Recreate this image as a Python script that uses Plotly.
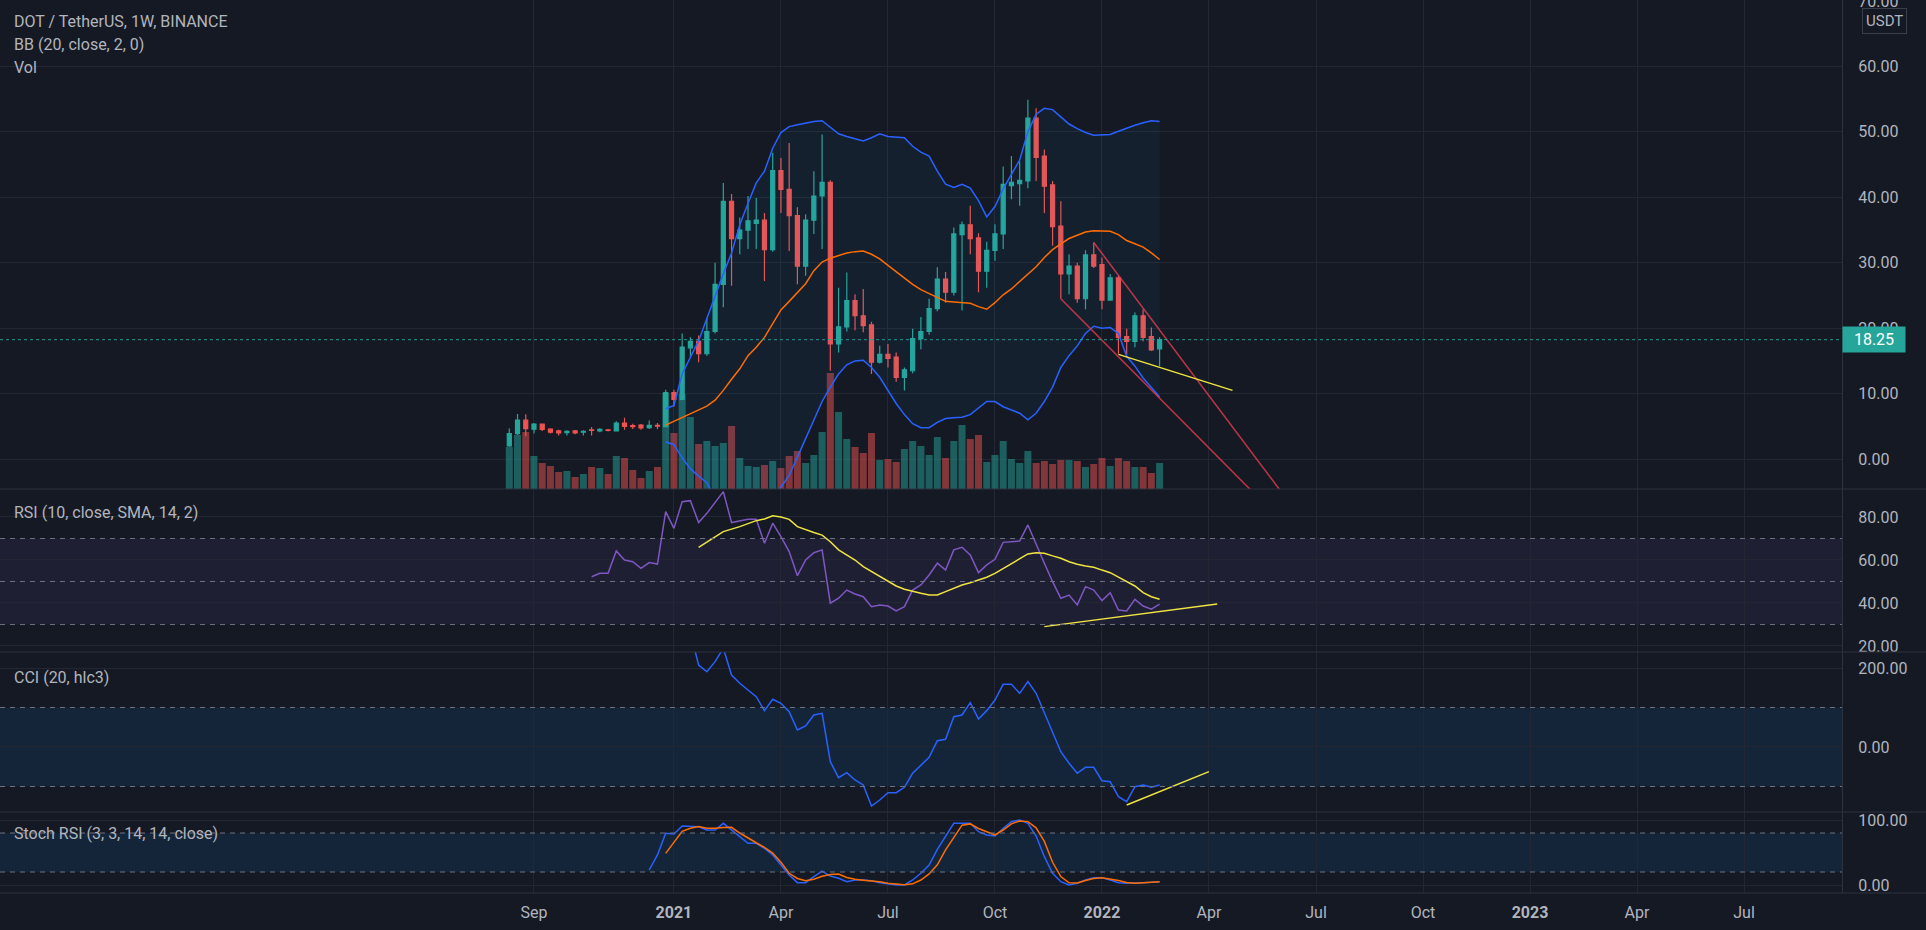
import plotly.graph_objects as go
import pandas as pd

# ---------------- data ----------------
first_week = "2020-08-17"

opens = [2.0, 3.9, 5.94, 4.57, 5.33, 4.57, 4.3, 4.05, 4.3, 4.1,
         4.45, 4.3, 4.45, 4.3, 5.5, 5.1, 5.2, 4.8, 5.15, 4.95,
         10.15, 9.13, 17.0, 18.0, 16.1, 19.5, 26.7, 39.4, 33.7, 35.0,
         36.0, 36.5, 32.0, 44.1, 41.2, 37.2, 29.5, 36.5, 40.2, 42.3,
         17.6, 20.2, 24.2, 21.9, 20.5, 14.8, 16.0, 15.6, 12.5, 13.5,
         18.4, 19.5, 23.0, 27.5, 25.5, 34.3, 35.8, 33.8, 28.7, 31.9,
         34.4, 41.8, 42.1, 42.5, 52.1, 46.3, 41.9, 35.6, 28.3, 29.5,
         24.5, 31.2, 29.7, 24.3, 27.7, 18.7, 18.0, 21.9, 18.7, 16.85]
highs = [4.67, 6.9, 6.85, 5.5, 5.45, 4.7, 4.5, 4.4, 4.45, 4.4,
         4.9, 4.7, 4.6, 5.8, 6.3, 5.4, 5.35, 5.9, 5.5, 10.6,
         10.6, 19.2, 18.6, 18.9, 21.6, 30.0, 42.2, 40.5, 36.9, 40.2,
         39.9, 37.6, 46.8, 46.0, 48.3, 38.5, 37.4, 44.0, 49.6, 42.6,
         26.2, 28.5, 25.2, 26.0, 21.0, 17.3, 17.6, 16.3, 14.0, 19.9,
         21.7, 24.5, 29.3, 28.6, 35.4, 36.3, 38.7, 34.5, 33.2, 35.9,
         44.7, 46.3, 45.5, 54.9, 53.6, 47.3, 42.5, 39.4, 31.3, 30.0,
         31.9, 33.1, 30.8, 28.3, 28.0, 19.9, 22.4, 22.9, 20.1, 18.6]
lows = [1.9, 3.7, 3.5, 3.9, 4.3, 3.9, 3.6, 3.6, 3.8, 3.6,
        3.6, 4.1, 4.2, 4.2, 4.5, 4.6, 4.5, 4.6, 4.6, 4.9,
        8.0, 9.0, 15.6, 14.8, 15.8, 19.2, 23.2, 26.5, 31.3, 32.1,
        32.1, 27.2, 31.7, 37.6, 31.8, 26.7, 28.0, 34.4, 32.1, 13.5,
        16.3, 19.5, 19.7, 19.4, 13.0, 14.6, 14.0, 11.8, 10.5, 13.1,
        16.8, 19.0, 22.6, 23.9, 25.0, 22.7, 31.3, 25.5, 26.2, 30.3,
        32.1, 39.7, 38.7, 41.4, 42.5, 37.6, 32.6, 24.5, 25.2, 23.9,
        22.9, 29.2, 22.9, 24.2, 16.1, 16.0, 17.1, 18.0, 16.5, 14.2]
closes = [3.9, 5.94, 4.67, 5.33, 4.52, 4.11, 4.0, 4.25, 4.0, 4.25,
          4.4, 4.55, 4.4, 5.5, 5.0, 4.95, 4.75, 5.15, 5.05, 10.15,
          9.13, 17.1, 18.0, 16.1, 19.5, 26.7, 39.4, 33.7, 35.0, 36.4,
          36.5, 32.0, 44.1, 41.2, 37.2, 29.5, 36.5, 40.2, 42.3, 17.6,
          20.2, 24.2, 21.9, 20.4, 14.8, 16.0, 15.4, 12.5, 13.65, 18.4,
          19.5, 23.0, 27.5, 25.5, 34.4, 35.8, 33.7, 28.7, 31.9, 34.4,
          42.0, 42.3, 42.6, 52.1, 46.1, 41.7, 35.5, 28.3, 29.5, 24.5,
          31.2, 29.5, 24.3, 27.7, 18.6, 18.0, 21.9, 18.6, 16.7, 18.25]
volumes = [42, 54, 57, 33, 26, 23, 17, 18, 12, 15,
           22, 21, 15, 33, 31, 19, 11, 18, 22, 96,
           56, 95, 72, 45, 48, 43, 46, 63, 31, 23,
           22, 24, 28, 21, 33, 38, 26, 34, 57, 116,
           77, 50, 42, 36, 56, 29, 30, 27, 40, 48,
           43, 34, 52, 31, 48, 64, 50, 54, 27, 34,
           48, 30, 26, 38, 26, 28, 25, 29, 29, 28,
           22, 25, 31, 23, 31, 28, 22, 22, 16, 26]

bb_first = 19
bb_upper = [7.7, 8.2, 13.0, 15.5, 18.1, 21.5, 25.0, 28.3, 31.5, 35.8,
            39.1, 42.2, 44.0, 47.5, 49.9, 50.8, 51.1, 51.4, 51.6, 51.7,
            50.7, 49.7, 49.3, 48.9, 48.6, 49.1, 49.7, 49.3, 49.2, 49.1,
            47.8, 46.9, 46.3, 44.0, 42.0, 41.5, 42.0, 41.4, 39.5, 37.0,
            38.6, 41.3, 43.5, 45.7, 50.0, 52.7, 53.6, 53.4, 52.3, 51.2,
            50.5, 49.9, 49.5, 49.5, 49.6, 50.1, 50.6, 51.0, 51.4, 51.7, 51.6]
bb_basis = [5.2, 5.8, 6.4, 6.9, 7.5, 8.1, 9.0, 10.5, 12.2, 13.8,
            15.8, 17.1, 18.6, 20.7, 22.8, 24.1, 25.5, 26.8, 28.8, 30.1,
            30.7, 31.1, 31.5, 31.7, 31.8, 31.3, 30.6, 29.6, 28.6, 27.6,
            26.7, 25.9, 25.3, 24.8, 24.1, 24.0, 23.9, 23.8, 23.3, 22.9,
            23.9, 25.1, 26.0, 27.1, 28.2, 29.4, 30.8, 32.0, 32.9, 33.7,
            34.2, 34.7, 34.9, 34.9, 34.8, 34.3, 33.4, 32.9, 32.4, 31.5, 30.5]
bb_lower = [2.6, 2.2, 0.2, -1.5, -2.6, -3.6, -6.0, -7.5, -8.5, -8.8,
            -8.5, -8.0, -6.8, -6.0, -4.3, -2.5, 0.3, 3.2, 6.0, 8.8,
            11.0, 13.0, 14.4, 15.0, 15.1, 14.0, 12.5, 10.5, 8.5, 6.8,
            5.4, 4.8, 4.8, 5.6, 6.2, 6.3, 6.4, 6.8, 7.8, 8.8,
            8.8, 8.0, 7.5, 7.0, 6.0, 7.0, 8.8, 11.0, 14.0, 15.8,
            17.3, 19.2, 20.3, 20.0, 20.1, 19.2, 15.7, 14.2, 12.4, 11.0, 9.5]

rsi_first = 10
rsi = [52.2, 53.8, 53.8, 64.2, 60.0, 59.2, 56.1, 58.8, 58.1, 82.5,
       74.7, 87.1, 87.6, 77.4, 81.7, 86.7, 91.8, 77.4, 78.2, 78.9,
       78.9, 67.8, 77.1, 70.9, 63.9, 52.7, 60.0, 63.4, 64.7, 39.9,
       42.2, 46.0, 44.2, 42.9, 38.3, 39.1, 38.6, 36.3, 38.3, 46.0,
       48.4, 53.0, 58.5, 55.3, 64.7, 65.9, 62.3, 54.1, 57.7, 60.3,
       68.2, 68.5, 68.8, 76.3, 67.8, 58.5, 49.9, 42.2, 43.7, 39.1,
       47.6, 46.0, 41.1, 44.8, 36.7, 36.3, 41.7, 38.6, 37.1, 39.5]
rsi_ma_first = 23
rsi_ma = [65.9, 68.5, 70.8, 73.2, 74.3, 75.5, 76.9, 78.3, 79.1, 80.6,
          80.0, 78.9, 75.5, 74.0, 72.8, 71.6, 68.5, 64.7, 62.3, 60.0,
          56.9, 54.6, 52.2, 49.9, 47.9, 46.4, 45.3, 44.5, 43.7, 43.7,
          45.3, 46.8, 48.4, 49.4, 50.7, 52.0, 53.8, 56.1, 58.5, 60.8,
          62.8, 63.4, 63.1, 61.9, 60.8, 59.2, 58.0, 57.2, 56.6, 55.3,
          54.1, 52.0, 49.9, 47.9, 44.8, 42.9, 41.7]

cci_first = 19
cci = [320, 280, 300, 290, 207.6, 190.6, 216, 250, 182.3, 161.3,
       144.3, 127.3, 92, 120.8, 110.6, 89.4, 43, 53.2, 81, 85.3,
       -37.2, -77.7, -65, -83.5, -96.2, -149.4, -134.2, -115.7, -115.7, -102,
       -66.6, -45.6, -26.1, 16, 19.5, 76.7, 81, 112.2, 70.9, 92,
       119, 158.7, 158.7, 135.9, 165.4, 135.9, 85.3, 38.7, -11.9, -41.3,
       -66.6, -51.4, -51.4, -85.3, -87.8, -125.8, -138.5, -100.5, -96.2, -102, -96.2]

k_first = 17
stoch_k = [23.1, 46.2, 79.5, 78.5, 90.8, 90.8, 89.7, 84.6, 84.6, 94.9,
           84.6, 74.4, 64.1, 64.1, 56.4, 46.2, 30.8, 15.4, 3.6, 3.6,
           12.8, 21.5, 13.8, 10.3, 5.1, 7.7, 7.7, 6.7, 3.6, 1.5,
           0, 0, 7.7, 18, 30.8, 54.9, 74.4, 94.9, 94.9, 94.9,
           82, 76.9, 75.4, 87.2, 97.4, 100, 94.9, 75.4, 43.6, 18,
           5.1, 0, 2.6, 7.7, 11.3, 11.3, 7.7, 3.6, 2.6, 3.6,
           3.6, 4.1, 5.1]
d_first = 19
stoch_d = [48.7, 66, 82.5, 87.2, 90, 87.2, 87.2, 88.5, 88.7, 80,
           72, 65, 58, 49, 35, 18, 10, 6.7, 9, 13.5,
           16, 17, 11.5, 8.7, 7.5, 6.6, 5.1, 2.8, 1.2, 0.5,
           1.8, 7.7, 17, 31, 54, 73, 92, 94, 87, 82,
           77, 84.6, 94, 98.5, 97.5, 88, 67, 35, 13, 3.5,
           3.2, 7, 10, 11.2, 9.5, 7, 4, 2.7, 3.4, 4.1, 5.1]

# drawn trend lines (date, value)
red_upper_dates = ["2021-12-27", "2022-06-08"]
red_upper_vals = [33.1, -5.85]
red_lower_dates = ["2021-11-29", "2022-05-16"]
red_lower_vals = [24.5, -5.9]
yel_price_dates = ["2022-01-17", "2022-04-24"]
yel_price_vals = [16.0, 10.5]
yel_rsi_dates = ["2021-11-15", "2022-04-11"]
yel_rsi_vals = [29.0, 39.5]
yel_cci_dates = ["2022-01-24", "2022-04-04"]
yel_cci_vals = [-146.8, -62.5]

tick_dates = ["2020-09-07", "2021-01-04", "2021-04-05", "2021-07-05", "2021-10-04",
              "2022-01-03", "2022-04-04", "2022-07-04", "2022-10-03", "2023-01-02",
              "2023-04-03", "2023-07-03"]
tick_text = ["Sep", "<b>2021</b>", "Apr", "Jul", "Oct", "<b>2022</b>", "Apr", "Jul",
             "Oct", "<b>2023</b>", "Apr", "Jul"]

price_ticks = [0, 10, 20, 30, 40, 50, 60, 70]
rsi_ticks = [20, 40, 60, 80]
cci_ticks = [0, 200]
stoch_ticks = [0, 100]

# ---------------- geometry / style ----------------
W, H = 1926, 930
AXIS_W = 84
TIME_H = 37
PLOT_H = H - TIME_H
panes = [0, 489, 652, 812, PLOT_H]


def fy(px):
    return (PLOT_H - px) / PLOT_H


x_range = ["2019-06-10 22:00", "2023-09-24 07:00"]
price_range = [-4.57, 70.15]
vol_range = [0, 489]
rsi_range = [17.2, 93.02]
cci_range = [-164.6, 240.5]
stoch_range = [-12.3, 112.3]

BG = "#151924"
GRID = "#232733"
SEP = "#2e323e"
TXT = "#b2b5be"
UP = "#26a69a"
DN = "#ef5350"
BLUE = "#2962ff"
ORANGE = "#ff6d00"
FONT = "Roboto"

dates = pd.date_range(first_week, periods=len(opens), freq="7D")

fig = go.Figure()

# volume (base axis of main pane)
vol_colors = ["rgba(38,166,154,0.5)" if c >= o else "rgba(239,83,80,0.5)"
              for o, c in zip(opens, closes)]
fig.add_trace(go.Bar(x=dates, y=volumes, marker=dict(color=vol_colors, line_width=0),
                     xaxis="x", yaxis="y", hoverinfo="skip"))

# Bollinger bands
bbx = dates[bb_first:]
fig.add_trace(go.Scatter(x=bbx, y=bb_upper, mode="lines", line=dict(color=BLUE, width=1.5),
                         xaxis="x", yaxis="y5", hoverinfo="skip"))
fig.add_trace(go.Scatter(x=bbx, y=bb_lower, mode="lines", line=dict(color=BLUE, width=1.5),
                         fill="tonexty", fillcolor="rgba(33,150,243,0.06)",
                         xaxis="x", yaxis="y5", hoverinfo="skip"))
fig.add_trace(go.Scatter(x=bbx, y=bb_basis, mode="lines", line=dict(color=ORANGE, width=1.5),
                         xaxis="x", yaxis="y5", hoverinfo="skip"))

# candles
fig.add_trace(go.Candlestick(x=dates, open=opens, high=highs, low=lows, close=closes,
                             increasing=dict(line=dict(color=UP, width=1.2), fillcolor=UP),
                             decreasing=dict(line=dict(color=DN, width=1.2), fillcolor=DN),
                             whiskerwidth=0, xaxis="x", yaxis="y5", hoverinfo="skip"))

# trend lines on price
for dx, dv, col in [(red_upper_dates, red_upper_vals, "rgba(232,60,80,0.8)"),
                    (red_lower_dates, red_lower_vals, "rgba(232,60,80,0.8)"),
                    (yel_price_dates, yel_price_vals, "#f0e442")]:
    fig.add_trace(go.Scatter(x=dx, y=dv, mode="lines", line=dict(color=col, width=1.5),
                             xaxis="x", yaxis="y5", hoverinfo="skip"))

# RSI
fig.add_trace(go.Scatter(x=dates[rsi_first:], y=rsi, mode="lines",
                         line=dict(color="#7e57c2", width=1.5), xaxis="x2", yaxis="y2"))
fig.add_trace(go.Scatter(x=dates[rsi_ma_first:], y=rsi_ma, mode="lines",
                         line=dict(color="#f0e442", width=1.5), xaxis="x2", yaxis="y2"))
fig.add_trace(go.Scatter(x=yel_rsi_dates, y=yel_rsi_vals, mode="lines",
                         line=dict(color="#f0e442", width=1.5), xaxis="x2", yaxis="y2"))

# CCI
fig.add_trace(go.Scatter(x=dates[cci_first:], y=cci, mode="lines",
                         line=dict(color=BLUE, width=1.5), xaxis="x3", yaxis="y3"))
fig.add_trace(go.Scatter(x=yel_cci_dates, y=yel_cci_vals, mode="lines",
                         line=dict(color="#f0e442", width=1.5), xaxis="x3", yaxis="y3"))

# Stoch RSI
fig.add_trace(go.Scatter(x=dates[k_first:], y=stoch_k, mode="lines",
                         line=dict(color=BLUE, width=1.5), xaxis="x4", yaxis="y4"))
fig.add_trace(go.Scatter(x=dates[d_first:], y=stoch_d, mode="lines",
                         line=dict(color=ORANGE, width=1.5), xaxis="x4", yaxis="y4"))

# ---------------- axes ----------------
xcommon = dict(type="date", range=x_range, tickmode="array", tickvals=tick_dates,
               ticktext=tick_text, showgrid=True, gridcolor=GRID, gridwidth=1,
               zeroline=False, showline=False, ticks="", showticklabels=False,
               fixedrange=True, automargin=False)
ycommon = dict(side="right", ticks="", showline=True, linecolor=SEP, linewidth=1,
               showgrid=True, gridcolor=GRID, gridwidth=1, zeroline=False,
               tickformat=".2f", tickfont=dict(family=FONT, size=16, color=TXT),
               ticklabelstandoff=12, fixedrange=True, tickmode="array",
               ticklabeloverflow="allow", automargin=False)

layout = dict(
    width=W, height=H, paper_bgcolor=BG, plot_bgcolor=BG,
    margin=dict(l=0, r=AXIS_W, t=0, b=TIME_H, pad=0, autoexpand=False),
    showlegend=False, bargap=0.15, hovermode=False,
    font=dict(family=FONT, color=TXT, size=16),
    xaxis=dict(xcommon, anchor="y", domain=[0, 1], rangeslider=dict(visible=False)),
    xaxis2=dict(xcommon, anchor="y2", domain=[0, 1], matches="x"),
    xaxis3=dict(xcommon, anchor="y3", domain=[0, 1], matches="x"),
    xaxis4=dict(xcommon, anchor="y4", domain=[0, 1], matches="x", showticklabels=True,
                tickfont=dict(family=FONT, size=16, color=TXT), ticklabelstandoff=8),
    yaxis=dict(domain=[fy(panes[1]), 1], anchor="x", range=vol_range, visible=False,
               fixedrange=True, automargin=False),
    yaxis5=dict(ycommon, overlaying="y", anchor="x", range=price_range, tickvals=price_ticks),
    yaxis2=dict(ycommon, domain=[fy(panes[2]), fy(panes[1])], anchor="x2", range=rsi_range,
                tickvals=rsi_ticks),
    yaxis3=dict(ycommon, domain=[fy(panes[3]), fy(panes[2])], anchor="x3", range=cci_range,
                tickvals=cci_ticks),
    yaxis4=dict(ycommon, domain=[0, fy(panes[3])], anchor="x4", range=stoch_range,
                tickvals=stoch_ticks),
)
fig.update_layout(**layout)

# ---------------- shapes ----------------
shapes = []


def band(xa, ya, lo, hi, color):
    shapes.append(dict(type="rect", xref=f"{xa} domain", yref=ya, x0=0, x1=1, y0=lo, y1=hi,
                       fillcolor=color, line=dict(width=0), layer="below"))


def dashed(xa, ya, v):
    shapes.append(dict(type="line", xref=f"{xa} domain", yref=ya, x0=0, x1=1, y0=v, y1=v,
                       line=dict(color="#6f7380", width=1, dash="5px,5px")))


band("x2", "y2", 30, 70, "rgba(126,87,194,0.10)")
for v in (70, 50, 30):
    dashed("x2", "y2", v)
band("x3", "y3", -100, 100, "rgba(33,150,243,0.10)")
for v in (100, -100):
    dashed("x3", "y3", v)
band("x4", "y4", 20, 80, "rgba(33,150,243,0.10)")
for v in (80, 20):
    dashed("x4", "y4", v)

# last price dotted line
shapes.append(dict(type="line", xref="x domain", yref="y5", x0=0, x1=1,
                   y0=closes[-1], y1=closes[-1],
                   line=dict(color="rgba(38,166,154,0.9)", width=1, dash="dot")))

# pane separators (full width incl. price scale)
for p in panes[1:]:
    shapes.append(dict(type="line", xref="paper", yref="paper", x0=0, x1=W / (W - AXIS_W),
                       y0=fy(p), y1=fy(p), line=dict(color=SEP, width=1)))
fig.update_layout(shapes=shapes)

# ---------------- annotations ----------------
pw = W - AXIS_W
ann = []


def label(text, ypx):
    ann.append(dict(text=text, xref="paper", yref="paper", x=12 / pw, y=fy(ypx),
                    xanchor="left", yanchor="middle", showarrow=False,
                    font=dict(family=FONT, size=16, color=TXT)))


label("DOT / TetherUS, 1W, BINANCE", 22)
label("BB (20, close, 2, 0)", 45)
label("Vol", 68)
label("RSI (10, close, SMA, 14, 2)", 512)
label("CCI (20, hlc3)", 677)
label("Stoch RSI (3, 3, 14, 14, close)", 833)

ann.append(dict(text="USDT", xref="paper", yref="paper", x=1 + 42 / pw, y=fy(20.5),
                xanchor="center", yanchor="middle", showarrow=False,
                font=dict(family=FONT, size=15, color=TXT),
                bordercolor="#3a3e4a", borderwidth=1, borderpad=3, bgcolor=BG))
ann.append(dict(text=f"{closes[-1]:.2f}", xref="paper", yref="y5", x=1, y=closes[-1],
                xanchor="left", yanchor="middle", showarrow=False,
                font=dict(family=FONT, size=16, color="#ffffff"),
                bgcolor=UP, borderpad=3, width=56, align="center"))
fig.update_layout(annotations=ann)

fig.write_html("out.html", config={"displayModeBar": False, "staticPlot": True})
